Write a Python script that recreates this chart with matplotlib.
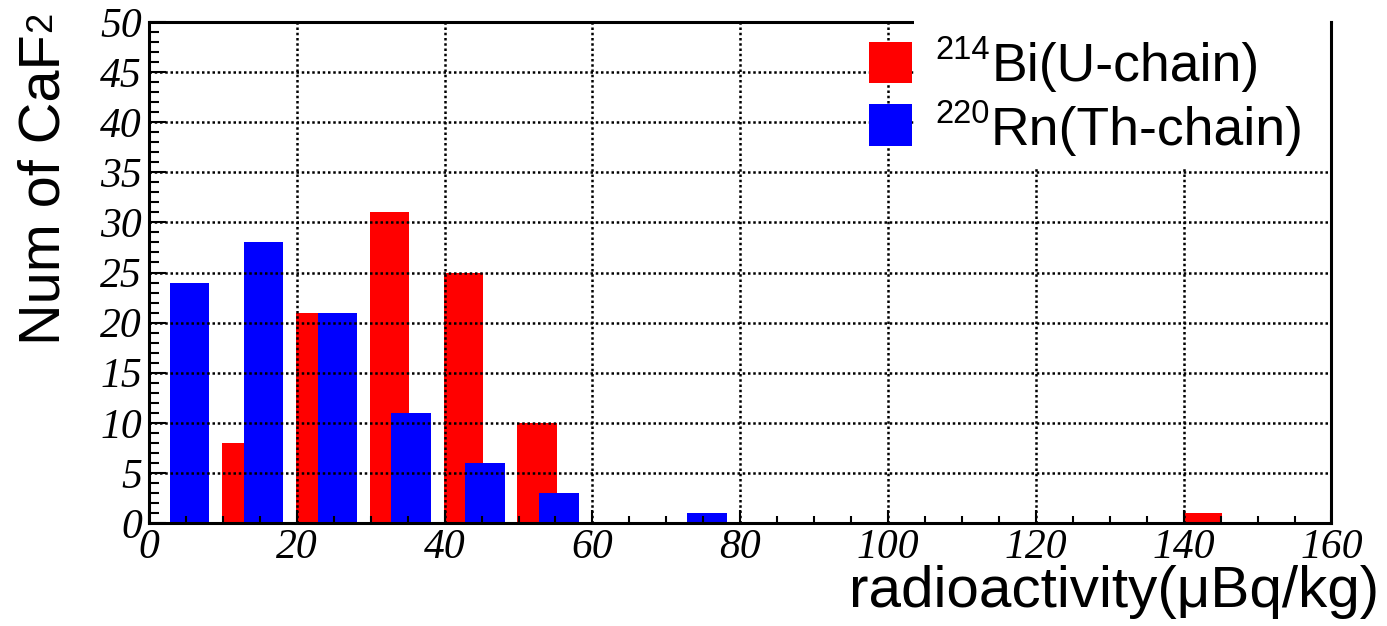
import matplotlib
matplotlib.use("Agg")
import matplotlib.pyplot as plt
from matplotlib.patches import Rectangle
from matplotlib.ticker import MultipleLocator
import numpy as np

# ---- data -------------------------------------------------------------
bin_low = [0, 10, 20, 30, 40, 50, 60, 70, 80, 90, 100, 110, 120, 130, 140, 150]
bin_width = 10
bi214_counts = [0, 8, 21, 31, 25, 10, 0, 0, 0, 0, 0, 0, 0, 0, 1, 0]
rn220_counts = [24, 28, 21, 11, 6, 3, 0, 1, 0, 0, 0, 0, 0, 0, 0, 0]
x_ticks = [0, 20, 40, 60, 80, 100, 120, 140, 160]
y_ticks = [0, 5, 10, 15, 20, 25, 30, 35, 40, 45, 50]
bi214_label = ("214", "Bi(U-chain)")
rn220_label = ("220", "Rn(Th-chain)")
x_title = "radioactivity(\u03bcBq/kg)"
y_title = ("Num of CaF", "2")

# ---- styling ----------------------------------------------------------
W, H, DPI = 1387, 626, 100
RED, BLUE = "#ff0000", "#0000ff"
bar_frac = 0.535
red_offset, blue_offset = -0.015, 0.28
sans = "Liberation Sans"
serif = "Liberation Serif"


def fx(px):
    return px / W


def fy(py):
    return 1 - py / H


fig = plt.figure(figsize=(W / DPI, H / DPI), dpi=DPI)
ax = fig.add_axes([fx(149), fy(523), fx(1331.5) - fx(149), fy(22) - fy(523)])

lows = np.array(bin_low, dtype=float)
ax.bar(lows + red_offset * bin_width, bi214_counts, width=bar_frac * bin_width,
       align="edge", color=RED, edgecolor="none", zorder=1)
ax.bar(lows + blue_offset * bin_width, rn220_counts, width=bar_frac * bin_width,
       align="edge", color=BLUE, edgecolor="none", zorder=1.1)

ax.set_xlim(0, 160)
ax.set_ylim(0, 50)
ax.set_xticks(x_ticks)
ax.set_yticks(y_ticks)
ax.xaxis.set_minor_locator(MultipleLocator(5))
ax.yaxis.set_minor_locator(MultipleLocator(1))
ax.set_xticklabels([str(t) for t in x_ticks], fontfamily=serif,
                   fontstyle="italic", fontsize=30)
ax.set_yticklabels([str(t) for t in y_ticks], fontfamily=serif,
                   fontstyle="italic", fontsize=30)

ax.tick_params(axis="both", which="both", direction="in", color="black",
               width=1.5, top=False, right=False)
ax.tick_params(axis="x", which="major", length=9.4, pad=4)
ax.tick_params(axis="x", which="minor", length=4.7)
ax.tick_params(axis="y", which="major", length=12.2, pad=5)
ax.tick_params(axis="y", which="minor", length=7.0)

ax.set_axisbelow(False)
ax.grid(True, which="major", color="black", linewidth=1.8,
        linestyle=(0, (1, 1.1)))

for side in ("left", "bottom", "top", "right"):
    ax.spines[side].set_linewidth(2.2)
    ax.spines[side].set_color("black")
ax.spines["right"].set_zorder(5)

# ---- legend -----------------------------------------------------------
ax.add_patch(Rectangle((fx(914), fy(168)), fx(1329.5) - fx(914), fy(18) - fy(168),
                       transform=fig.transFigure, facecolor="white",
                       edgecolor="none", clip_on=False, zorder=3))
ax.add_patch(Rectangle((fx(869), fy(82.7)), fx(912) - fx(869), fy(41.7) - fy(82.7),
                       transform=fig.transFigure, facecolor=RED,
                       edgecolor="none", clip_on=False, zorder=4))
ax.add_patch(Rectangle((fx(869), fy(145.7)), fx(912) - fx(869), fy(104.3) - fy(145.7),
                       transform=fig.transFigure, facecolor=BLUE,
                       edgecolor="none", clip_on=False, zorder=4))

fig.canvas.draw()
renderer = fig.canvas.get_renderer()

for (sup, main), base_y in ((bi214_label, 81), (rn220_label, 145)):
    t_sup = fig.text(fx(935), fy(base_y - 22), sup, fontfamily=sans,
                     fontsize=23.5, ha="left", va="baseline", zorder=6)
    bb = t_sup.get_window_extent(renderer)
    fig.text(bb.x1 / W + fx(1.5), fy(base_y), main, fontfamily=sans,
             fontsize=38.5, ha="left", va="baseline", zorder=6)

# ---- axis titles ------------------------------------------------------
fig.text(fx(1379), fy(607), x_title, fontfamily=sans, fontsize=42,
         ha="right", va="baseline")

t_y = fig.text(fx(60), fy(345), y_title[0], fontfamily=sans, fontsize=41.5,
               rotation=90, rotation_mode="anchor", ha="left", va="baseline")
by = t_y.get_window_extent(renderer)
fig.text(fx(51), by.y1 / H + 2 / H, y_title[1], fontfamily=sans,
         fontsize=26, rotation=90, rotation_mode="anchor", ha="left",
         va="baseline")

fig.savefig("out.png", dpi=DPI)
